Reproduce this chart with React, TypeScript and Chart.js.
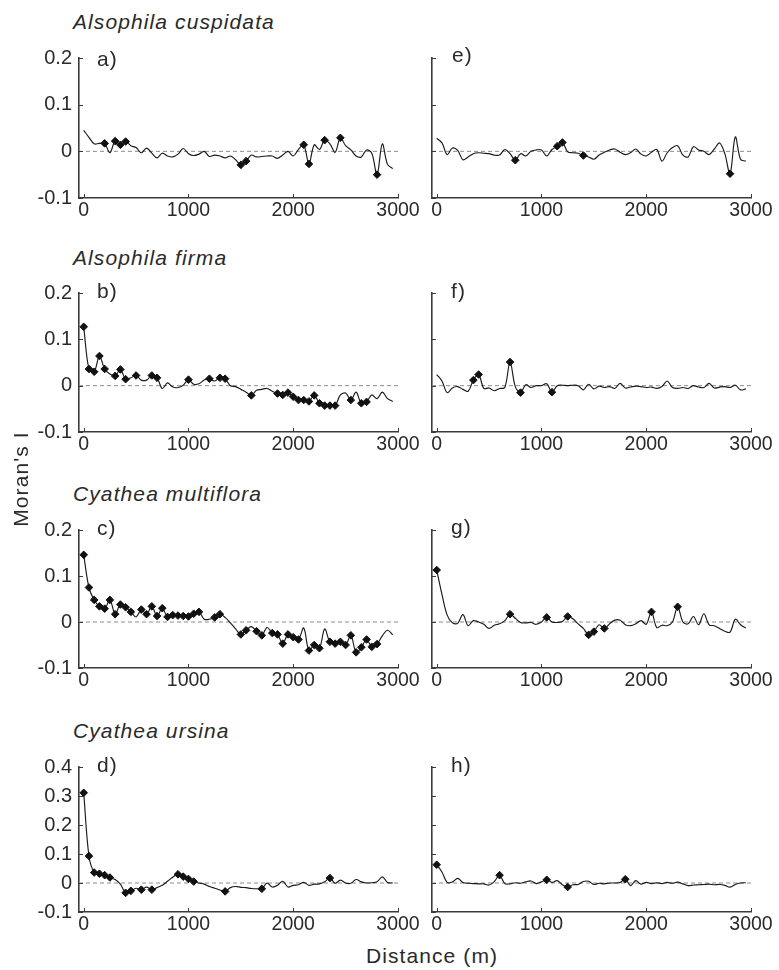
import React, { useEffect, useRef } from 'react';
import { Chart, registerables } from 'chart.js';

Chart.register(...registerables);

// ---------- data ----------
const distances = [
  0, 50, 100, 150, 200, 250, 300, 350, 400, 450,
  500, 550, 600, 650, 700, 750, 800, 850, 900, 950,
  1000, 1050, 1100, 1150, 1200, 1250, 1300, 1350, 1400, 1450,
  1500, 1550, 1600, 1650, 1700, 1750, 1800, 1850, 1900, 1950,
  2000, 2050, 2100, 2150, 2200, 2250, 2300, 2350, 2400, 2450,
  2500, 2550, 2600, 2650, 2700, 2750, 2800, 2850, 2900, 2950,
];
const xTicks = [0, 1000, 2000, 3000];
const yTicksShort = [-0.1, 0, 0.1, 0.2];
const yTicksTall = [-0.1, 0, 0.1, 0.2, 0.3, 0.4];

const species = ['Alsophila cuspidata', 'Alsophila firma', 'Cyathea multiflora', 'Cyathea ursina'];
const xAxisTitle = 'Distance (m)';
const yAxisTitle = "Moran's I";

// a) Alsophila cuspidata, model 1
const seriesA = [
  0.045, 0.030, 0.016, 0.017, 0.017, -0.003, 0.022, 0.014, 0.021, 0.012,
  0.008, -0.003, 0.007, -0.004, -0.014, -0.004, -0.010, -0.012, -0.006, 0.006,
  -0.005, -0.009, -0.006, 0.000, -0.011, -0.008, -0.010, -0.014, -0.010, -0.018,
  -0.029, -0.021, -0.008, -0.012, -0.011, -0.010, -0.010, -0.015, -0.008, 0.000,
  -0.010, 0.004, 0.014, -0.027, 0.014, 0.004, 0.024, 0.016, -0.002, 0.029,
  0.012, 0.003, -0.010, -0.012, 0.003, -0.004, -0.050, 0.016, -0.028, -0.037,
];
const sigA = [200, 300, 350, 400, 1500, 1550, 2100, 2150, 2300, 2450, 2800];

// e) Alsophila cuspidata, model 2
const seriesE = [
  0.028, 0.018, -0.007, 0.007, 0.002, -0.018, -0.012, -0.005, -0.003, -0.004,
  -0.005, -0.008, -0.008, 0.004, -0.005, -0.019, -0.005, -0.010, 0.000, 0.003,
  0.003, -0.010, 0.004, 0.011, 0.019, -0.001, -0.003, -0.004, -0.009, -0.012,
  -0.017, -0.008, -0.002, 0.003, 0.005, -0.002, -0.007, -0.003, 0.005, -0.006,
  -0.010, -0.002, 0.004, -0.021, -0.003, 0.008, 0.012, -0.008, -0.012, 0.010,
  0.003, 0.000, -0.007, 0.005, 0.018, -0.005, -0.048, 0.031, -0.017, -0.021,
];
const sigE = [750, 1150, 1200, 1400, 2800];

// b) Alsophila firma, model 1
const seriesB = [
  0.127, 0.036, 0.030, 0.064, 0.036, 0.025, 0.021, 0.035, 0.014, 0.017,
  0.022, 0.012, 0.012, 0.022, 0.017, -0.006, 0.006, -0.003, -0.004, 0.001,
  0.013, 0.003, 0.004, 0.012, 0.015, 0.010, 0.017, 0.015, 0.000, -0.002,
  -0.008, -0.014, -0.021, -0.010, -0.008, -0.006, -0.012, -0.017, -0.020, -0.015,
  -0.024, -0.031, -0.031, -0.034, -0.021, -0.038, -0.043, -0.043, -0.043, -0.020,
  -0.016, -0.031, -0.014, -0.038, -0.035, -0.020, -0.028, -0.014, -0.028, -0.034,
];
const sigB = [
  0, 50, 100, 150, 200, 300, 350, 400, 500, 650, 700, 1000, 1200, 1300, 1350, 1600,
  1850, 1900, 1950, 2000, 2050, 2100, 2150, 2200, 2250, 2300, 2350, 2400, 2550, 2650, 2700,
];

// f) Alsophila firma, model 2
const seriesF = [
  0.024, 0.010, -0.015, -0.005, -0.002, -0.008, -0.012, 0.012, 0.024, -0.006,
  -0.005, -0.011, -0.006, -0.004, 0.051, -0.002, -0.015, 0.002, -0.004, 0.000,
  0.000, 0.004, -0.014, 0.000, 0.001, 0.000, 0.001, 0.000, -0.009, 0.003,
  -0.007, -0.001, -0.004, -0.002, -0.006, 0.005, -0.005, -0.003, -0.001, -0.002,
  -0.004, -0.003, -0.006, -0.002, 0.010, -0.004, -0.006, -0.004, -0.006, 0.000,
  -0.003, -0.004, 0.005, -0.005, -0.003, -0.002, -0.004, 0.001, -0.009, -0.007,
];
const sigF = [350, 400, 700, 800, 1100];

// c) Cyathea multiflora, model 1
const seriesC = [
  0.146, 0.075, 0.048, 0.034, 0.029, 0.048, 0.017, 0.038, 0.032, 0.022,
  0.011, 0.027, 0.017, 0.034, 0.013, 0.030, 0.011, 0.015, 0.014, 0.013,
  0.012, 0.018, 0.022, 0.006, 0.006, 0.010, 0.017, 0.010, -0.002, -0.015,
  -0.027, -0.018, -0.010, -0.020, -0.029, -0.012, -0.024, -0.027, -0.047, -0.027,
  -0.033, -0.038, -0.013, -0.062, -0.050, -0.057, -0.015, -0.043, -0.047, -0.043,
  -0.050, -0.029, -0.066, -0.055, -0.038, -0.054, -0.048, -0.030, -0.018, -0.028,
];
const sigC = [
  0, 50, 100, 150, 200, 250, 300, 350, 400, 450,
  550, 600, 650, 700, 750, 800, 850, 900, 950, 1000, 1050, 1100,
  1250, 1300, 1500, 1550, 1650, 1700,
  1800, 1850, 1900, 1950, 2000, 2050, 2150, 2200, 2250,
  2350, 2400, 2450, 2500, 2550, 2600, 2650, 2700, 2750, 2800,
];

// g) Cyathea multiflora, model 2
const seriesG = [
  0.113, 0.060, 0.015, -0.002, -0.003, 0.016, -0.008, 0.003, 0.000, -0.005,
  -0.014, -0.007, -0.004, 0.003, 0.017, 0.008, -0.001, -0.002, -0.001, -0.005,
  0.000, 0.010, 0.000, -0.001, 0.001, 0.012, 0.007, -0.004, -0.014, -0.028,
  -0.021, -0.006, -0.014, -0.004, 0.004, 0.004, -0.006, -0.008, -0.004, 0.003,
  -0.005, 0.022, -0.012, -0.007, -0.008, 0.000, 0.033, 0.000, -0.004, 0.012,
  -0.006, 0.018, -0.006, -0.008, -0.014, -0.020, -0.022, 0.006, -0.006, -0.013,
];
const sigG = [0, 700, 1050, 1250, 1450, 1500, 1600, 2050, 2300];

// d) Cyathea ursina, model 1
const seriesD = [
  0.311, 0.093, 0.036, 0.032, 0.027, 0.019, 0.012, -0.004, -0.034, -0.027,
  -0.018, -0.023, -0.014, -0.023, -0.016, -0.008, 0.006, 0.020, 0.030, 0.022,
  0.014, 0.005, 0.000, -0.004, -0.012, -0.018, -0.024, -0.029, -0.016, -0.012,
  -0.015, -0.016, -0.019, -0.020, -0.020, 0.000, -0.014, -0.008, 0.006, -0.014,
  -0.008, -0.006, 0.002, -0.008, -0.004, -0.003, 0.004, 0.017, -0.001, 0.010,
  0.000, -0.001, 0.012, 0.004, 0.000, 0.001, 0.004, 0.021, 0.002, 0.000,
];
const sigD = [0, 50, 100, 150, 200, 250, 400, 450, 550, 650, 900, 950, 1000, 1050, 1350, 1700, 2350];

// h) Cyathea ursina, model 2
const seriesH = [
  0.063, 0.038, 0.002, 0.004, 0.016, 0.002, -0.001, -0.002, -0.003, -0.003,
  -0.007, 0.005, 0.027, -0.002, -0.003, 0.001, -0.001, 0.004, 0.007, -0.002,
  0.004, 0.011, 0.002, 0.008, -0.006, -0.014, -0.006, -0.005, 0.005, 0.006,
  -0.005, -0.001, -0.003, 0.000, 0.000, 0.002, 0.013, -0.009, 0.008, -0.004,
  0.002, -0.002, 0.001, -0.002, 0.002, -0.001, 0.003, -0.003, -0.009, -0.007,
  -0.006, -0.005, -0.004, -0.006, -0.005, -0.008, -0.014, -0.005, 0.000, 0.001,
];
const sigH = [0, 600, 1050, 1250, 1800];

// ---------- layout / style ----------
const X_MIN = -45;
const X_MAX = 3000;
const FONT = "'Liberation Sans', Arial, Helvetica, sans-serif";
const AXIS_COLOR = '#3a3a3a';
const TEXT_COLOR = '#2a2a2a';

const rows = [
  { top: 53, bottom: 198 },
  { top: 288, bottom: 432 },
  { top: 525, bottom: 668 },
  { top: 762, bottom: 912 },
];
const cols = [
  { left: 79, right: 398 },
  { left: 432, right: 751 },
];
const YW = 50;
const PT = 14;
const PR = 26;
const XH = 30;

type PanelDef = {
  letter: string;
  series: number[];
  sig: number[];
  yTicks: number[];
  row: number;
  col: number;
  letterX: number;
  letterY: number;
};

const panels: PanelDef[] = [
  { letter: 'a)', series: seriesA, sig: sigA, yTicks: yTicksShort, row: 0, col: 0, letterX: 97, letterY: 59 },
  { letter: 'e)', series: seriesE, sig: sigE, yTicks: yTicksShort, row: 0, col: 1, letterX: 452, letterY: 55 },
  { letter: 'b)', series: seriesB, sig: sigB, yTicks: yTicksShort, row: 1, col: 0, letterX: 97, letterY: 291 },
  { letter: 'f)', series: seriesF, sig: sigF, yTicks: yTicksShort, row: 1, col: 1, letterX: 451, letterY: 291 },
  { letter: 'c)', series: seriesC, sig: sigC, yTicks: yTicksShort, row: 2, col: 0, letterX: 97, letterY: 528 },
  { letter: 'g)', series: seriesG, sig: sigG, yTicks: yTicksShort, row: 2, col: 1, letterX: 451, letterY: 527 },
  { letter: 'd)', series: seriesD, sig: sigD, yTicks: yTicksTall, row: 3, col: 0, letterX: 97, letterY: 765 },
  { letter: 'h)', series: seriesH, sig: sigH, yTicks: yTicksTall, row: 3, col: 1, letterX: 451, letterY: 765 },
];

const titleCenters = [22, 258, 494, 731];

const inwardTicks = {
  id: 'inwardTicks',
  afterDatasetsDraw(chart: any) {
    const { ctx, chartArea, scales } = chart;
    ctx.save();
    ctx.strokeStyle = AXIS_COLOR;
    ctx.lineWidth = 1;
    scales.y.ticks.forEach((t: any) => {
      const py = Math.round(scales.y.getPixelForValue(t.value)) + 0.5;
      ctx.beginPath();
      ctx.moveTo(chartArea.left, py);
      ctx.lineTo(chartArea.left + 4, py);
      ctx.stroke();
    });
    scales.x.ticks.forEach((t: any) => {
      const px = Math.round(scales.x.getPixelForValue(t.value)) + 0.5;
      ctx.beginPath();
      ctx.moveTo(px, chartArea.bottom);
      ctx.lineTo(px, chartArea.bottom - 4);
      ctx.stroke();
    });
    ctx.restore();
  },
};

function fmtY(v: number) {
  if (Math.abs(v) < 1e-9) return '0';
  return v.toFixed(1);
}

function PanelChart({ p }: { p: PanelDef }) {
  const ref = useRef<HTMLCanvasElement | null>(null);
  const r = rows[p.row];
  const c = cols[p.col];
  const w = c.right - c.left + YW + PR;
  const h = r.bottom - r.top + PT + XH;

  useEffect(() => {
    if (!ref.current) return;
    const showY = p.col === 0;
    const yMin = p.yTicks[0];
    const yMax = p.yTicks[p.yTicks.length - 1];
    const chart = new Chart(ref.current, {
      type: 'line',
      data: {
        datasets: [
          {
            data: [
              { x: X_MIN, y: 0 },
              { x: X_MAX, y: 0 },
            ],
            borderColor: '#8c8c8c',
            borderWidth: 1,
            borderDash: [4, 3],
            pointRadius: 0,
            tension: 0,
            order: 3,
          },
          {
            data: distances.map((d, i) => ({ x: d, y: p.series[i] })),
            borderColor: '#1a1a1a',
            borderWidth: 1.15,
            pointRadius: 0,
            tension: 0.35,
            order: 2,
          },
          {
            data: p.sig.map((d) => ({ x: d, y: p.series[distances.indexOf(d)] })),
            showLine: false,
            pointStyle: 'rectRot',
            pointRadius: 3.8,
            pointBackgroundColor: '#111',
            pointBorderColor: '#111',
            pointBorderWidth: 1,
            order: 1,
          },
        ],
      } as any,
      options: {
        responsive: false,
        animation: false,
        events: [],
        layout: { padding: { top: PT, right: PR, left: 0, bottom: 0 } },
        plugins: { legend: { display: false }, tooltip: { enabled: false } },
        scales: {
          x: {
            type: 'linear',
            min: X_MIN,
            max: X_MAX,
            afterBuildTicks: (s: any) => {
              s.ticks = xTicks.map((v) => ({ value: v }));
            },
            afterFit: (s: any) => {
              s.height = XH;
            },
            grid: { display: false, drawTicks: false },
            border: { display: true, color: AXIS_COLOR, width: 1.6 },
            ticks: {
              padding: 1,
              maxRotation: 0,
              autoSkip: false,
              color: TEXT_COLOR,
              font: { family: FONT, size: 19.5 },
              callback: (v: any) => String(v),
            },
          },
          y: {
            type: 'linear',
            min: yMin,
            max: yMax,
            afterBuildTicks: (s: any) => {
              s.ticks = p.yTicks.map((v) => ({ value: v }));
            },
            afterFit: (s: any) => {
              s.width = YW;
            },
            grid: { display: false, drawTicks: false },
            border: { display: true, color: AXIS_COLOR, width: 1.6 },
            ticks: {
              padding: 7,
              autoSkip: false,
              color: TEXT_COLOR,
              font: { family: FONT, size: 20 },
              callback: (v: any) => (showY ? fmtY(Number(v)) : ''),
            },
          },
        },
      } as any,
      plugins: [inwardTicks],
    });
    return () => chart.destroy();
  }, []);

  return (
    <canvas
      ref={ref}
      width={w}
      height={h}
      style={{ position: 'absolute', left: c.left - YW, top: r.top - PT, width: w, height: h }}
    />
  );
}

const textBase: React.CSSProperties = {
  position: 'absolute',
  fontFamily: FONT,
  fontSize: 21,
  lineHeight: '24px',
  letterSpacing: '1.1px',
  color: TEXT_COLOR,
  whiteSpace: 'nowrap',
};

export default function App() {
  return (
    <div
      style={{
        position: 'absolute',
        left: 0,
        top: 0,
        width: 779,
        height: 970,
        background: '#fff',
        overflow: 'hidden',
      }}
    >
      {panels.map((p) => (
        <PanelChart key={p.letter} p={p} />
      ))}
      {species.map((s, i) => (
        <div key={s} style={{ ...textBase, fontStyle: 'italic', left: 73, top: titleCenters[i] - 12 }}>
          {s}
        </div>
      ))}
      {panels.map((p) => (
        <div key={'l' + p.letter} style={{ ...textBase, left: p.letterX, top: p.letterY - 12 }}>
          {p.letter}
        </div>
      ))}
      <div
        style={{
          ...textBase,
          left: 21 - 70,
          top: 479 - 12,
          width: 140,
          textAlign: 'center',
          transform: 'rotate(-90deg)',
        }}
      >
        {yAxisTitle}
      </div>
      <div style={{ ...textBase, left: 432 - 80, top: 956 - 12, width: 160, textAlign: 'center' }}>
        {xAxisTitle}
      </div>
    </div>
  );
}
